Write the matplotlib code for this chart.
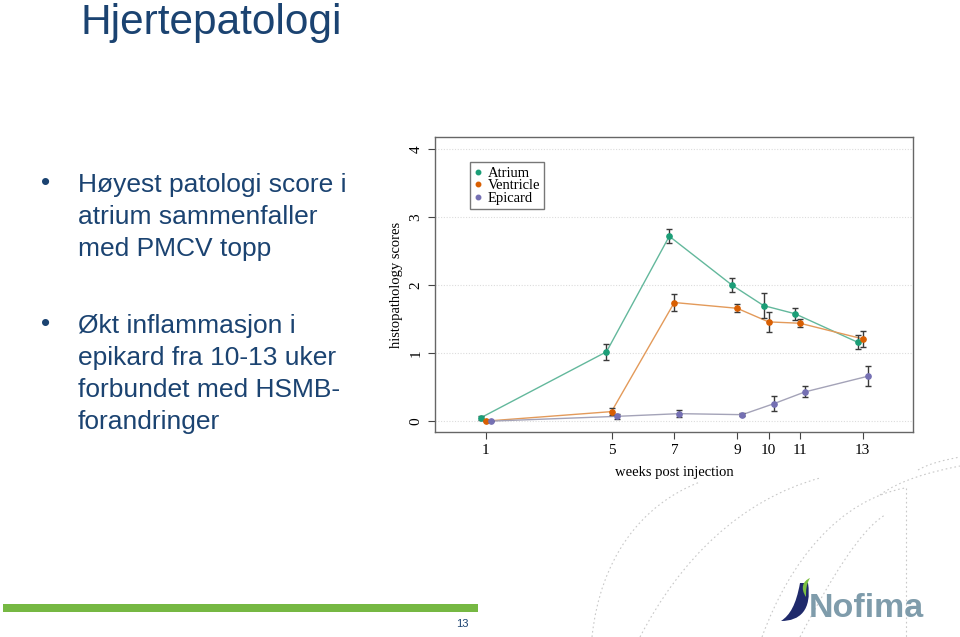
import matplotlib.pyplot as plt
from matplotlib.path import Path
from matplotlib.patches import PathPatch, Rectangle

# --------------------------
# Data
# --------------------------

weeks = [1, 5, 7, 9, 10, 11, 13]
week_labels = ["1", "5", "7", "9", "10", "11", "13"]

atrium = [0.05, 1.02, 2.72, 2.00, 1.70, 1.58, 1.16]
atrium_err = [0.03, 0.12, 0.10, 0.10, 0.19, 0.09, 0.10]

ventricle = [0.00, 0.14, 1.745, 1.66, 1.46, 1.44, 1.21]
ventricle_err = [0.00, 0.05, 0.13, 0.06, 0.15, 0.06, 0.12]

epicard = [0.00, 0.07, 0.11, 0.095, 0.255, 0.43, 0.66]
epicard_err = [0.00, 0.04, 0.05, 0.02, 0.11, 0.08, 0.15]

bullet_1 = ["Høyest patologi score i", "atrium sammenfaller", "med PMCV topp"]
bullet_2 = ["Økt inflammasjon i", "epikard fra 10-13 uker",
            "forbundet med HSMB-", "forandringer"]

text_blue = "#1b4371"

fig = plt.figure(figsize=(9.6, 6.37), dpi=100)

# --------------------------
# Slide layer (pixel coords)
# --------------------------

bg = fig.add_axes([0, 0, 1, 1])
bg.set_xlim(0, 960)
bg.set_ylim(637, 0)
bg.axis("off")

# decorative dotted curves
curves = [
    [(592, 637), (600, 560), (640, 505), (700, 482)],
    [(640, 637), (680, 560), (740, 500), (820, 478)],
    [(762, 637), (790, 560), (840, 500), (905, 488)],
    [(800, 637), (830, 580), (860, 530), (885, 515)],
    [(880, 495), (900, 480), (930, 472), (960, 466)],
    [(918, 470), (930, 463), (945, 460), (960, 457)],
]
for c in curves:
    p = Path(c, [Path.MOVETO, Path.CURVE4, Path.CURVE4, Path.CURVE4])
    bg.add_patch(PathPatch(p, fill=False, ec="#c8c8c8", lw=0.8,
                           ls=(0, (1.5, 2.5))))
bg.plot([906, 906], [488, 637], color="#c8c8c8", lw=0.8, ls=(0, (1.5, 2.5)))

bg.text(80, 34, "Hjertepatologi", fontsize=30.5, color=text_blue,
        family="Liberation Sans", va="baseline", ha="left")

for i, line in enumerate(bullet_1):
    bg.text(78, 192 + 32 * i, line, fontsize=19, color=text_blue,
            family="Liberation Sans", va="baseline")
bg.text(46, 190, "•", fontsize=19, color=text_blue,
        family="Liberation Sans", va="baseline", ha="center")

for i, line in enumerate(bullet_2):
    bg.text(78, 333 + 32 * i, line, fontsize=19, color=text_blue,
            family="Liberation Sans", va="baseline")
bg.text(46, 331, "•", fontsize=19, color=text_blue,
        family="Liberation Sans", va="baseline", ha="center")

# footer bar + page number
bg.add_patch(Rectangle((3, 604), 475, 8, color="#76b843", lw=0))
bg.text(462, 627, "13", fontsize=8, color=text_blue,
        family="Liberation Sans", ha="center", va="baseline")

# Nofima logo
swoosh = Path(
    [(800, 583), (796, 605), (790, 615), (781, 621),
     (800, 621), (812, 610), (808, 583), (800, 583)],
    [Path.MOVETO, Path.CURVE4, Path.CURVE4, Path.CURVE4,
     Path.CURVE4, Path.CURVE4, Path.CURVE4, Path.CLOSEPOLY])
bg.add_patch(PathPatch(swoosh, fc="#1f2a6b", ec="none"))
leaf = Path(
    [(806, 597), (800, 588), (803, 581), (810, 578),
     (806, 585), (806, 590), (806, 597)],
    [Path.MOVETO, Path.CURVE4, Path.CURVE4, Path.CURVE4,
     Path.CURVE4, Path.CURVE4, Path.CLOSEPOLY])
bg.add_patch(PathPatch(leaf, fc="#7cc142", ec="none"))
bg.text(809, 617, "Nofima", fontsize=24.5, color="#7f9cab",
        family="Liberation Sans", weight="bold", va="baseline")

# --------------------------
# Chart
# --------------------------

ax = fig.add_axes([435 / 960, 1 - 432 / 637, 478 / 960, 295 / 637])

series = [
    ("Atrium", atrium, atrium_err, -0.16, "#1b9e77", "#63b89c"),
    ("Ventricle", ventricle, ventricle_err, 0.0, "#d95f02", "#e39a5a"),
    ("Epicard", epicard, epicard_err, 0.16, "#7570b3", "#a4a3b8"),
]

for name, vals, errs, dx, mcol, lcol in series:
    xs = [w + dx for w in weeks]
    ax.plot(xs, vals, color=lcol, lw=1.0, zorder=2)
    ax.errorbar(xs, vals, yerr=errs, fmt="none", ecolor="#3a3a3a",
                elinewidth=1.0, capsize=2.5, capthick=1.0, zorder=3)
    ax.plot(xs, vals, "o", color=mcol, markersize=3.8, zorder=4,
            label=name)

for y in range(5):
    ax.axhline(y, color="#dcdcdc", lw=0.8, ls=(0, (1, 1.5)), zorder=1)

ax.set_xlim(-0.62, 14.6)
ax.set_ylim(-0.16, 4.18)

ax.set_xticks(weeks)
ax.set_xticklabels(week_labels)
ax.set_yticks(range(5))
ax.set_yticklabels([str(v) for v in range(5)], rotation=90, va="center")

for lab in ax.get_xticklabels() + ax.get_yticklabels():
    lab.set_family("Liberation Serif")
    lab.set_fontsize(11)

ax.tick_params(direction="out", length=5, width=0.8, color="#444444",
               pad=4)

for s in ax.spines.values():
    s.set_color("#666666")
    s.set_linewidth(1.0)

ax.set_xlabel("weeks post injection", family="Liberation Serif",
              fontsize=10.5, labelpad=6)
ax.set_ylabel("histopathology scores", family="Liberation Serif",
              fontsize=10.5, labelpad=5)

leg = ax.legend(loc="upper left", bbox_to_anchor=(0.073, 0.915),
                prop={"family": "Liberation Serif", "size": 10.5},
                frameon=True, fancybox=False, handlelength=0.5,
                handletextpad=0.4, borderpad=0.3, labelspacing=-0.05,
                markerscale=0.85, borderaxespad=0)
leg.get_frame().set_edgecolor("#555555")
leg.get_frame().set_linewidth(1.0)

plt.savefig("out.png", dpi=100)
